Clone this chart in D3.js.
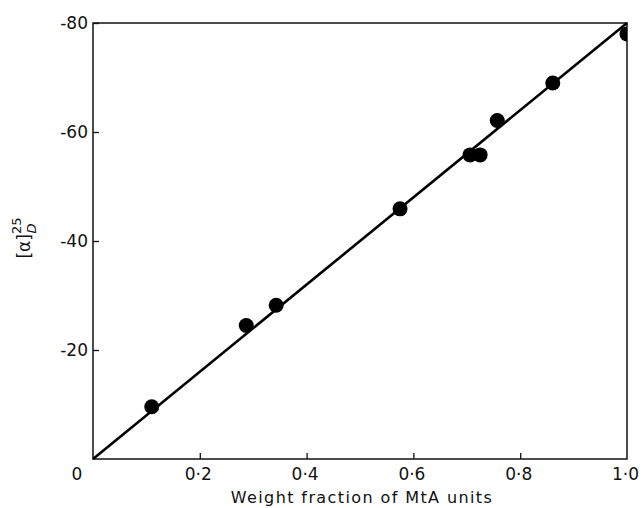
<!DOCTYPE html>
<html>
<head>
<meta charset="utf-8">
<script src="https://cdn.jsdelivr.net/npm/d3@7"></script>
<style>
  body { margin: 0; background: #fff; }
  svg text { font-family: "DejaVu Sans", sans-serif; fill: #111; }
</style>
</head>
<body>
<svg id="chart" width="643" height="508"></svg>
<script>
// points
var weightFraction = [0.11, 0.287, 0.343, 0.575, 0.706, 0.725, 0.757, 0.861, 1.0];
var rotation = [-9.6, -24.5, -28.2, -45.9, -55.8, -55.8, -62.1, -69.0, -78];
// straight line through origin
var lineX = [0, 1];
var lineY = [0, -80];
var xTicks = [0.2, 0.4, 0.6, 0.8, 1.0];
var yTicks = [-20, -40, -60, -80];

var mLeft = 93, mRight = 627, mTop = 23, mBottom = 459;

var svg = d3.select('#chart');

let x = d3.scaleLinear().domain([0, 1]).range([mLeft, mRight]);
let y = d3.scaleLinear().domain([0, -80]).range([mBottom, mTop]);

function fmt(d) {
  return d.toFixed(1).replace('.', '·');
}

// clip for the points (last one sits on the right frame)
svg.append('clipPath').attr('id', 'plotClip')
  .append('rect')
  .attr('x', mLeft).attr('y', mTop)
  .attr('width', mRight - mLeft).attr('height', mBottom - mTop);

// bottom axis
let xAxis = svg.append('g')
  .attr('transform', 'translate(0,' + mBottom + ')')
  .call(d3.axisBottom(x).tickValues(xTicks).tickSize(-6).tickPadding(9).tickFormat(fmt));
xAxis.selectAll('text').attr('font-size', 17).attr('dy', '0.71em').attr('dx', -2);
// last label runs off the edge in the original too
xAxis.selectAll('.tick:last-of-type line').remove();

// left axis
let yAxis = svg.append('g')
  .attr('transform', 'translate(' + mLeft + ',0)')
  .call(d3.axisLeft(y).tickValues(yTicks).tickSize(-6).tickPadding(5).tickFormat(d => d));
yAxis.selectAll('text').attr('font-size', 17);

svg.selectAll('.domain').remove();
svg.selectAll('.tick line').attr('stroke', '#111').attr('stroke-width', 1.3);

// frame
svg.append('rect')
  .attr('x', mLeft).attr('y', mTop)
  .attr('width', mRight - mLeft).attr('height', mBottom - mTop)
  .attr('fill', 'none')
  .attr('stroke', '#111')
  .attr('stroke-width', 1.5);

// origin label
svg.append('text')
  .attr('x', x(0) - 16).attr('y', mBottom + 9)
  .attr('dy', '0.71em')
  .attr('text-anchor', 'middle')
  .attr('font-size', 17)
  .text('0');

// fitted line
let lineGen = d3.line()
  .x((d, i) => x(lineX[i]))
  .y((d, i) => y(lineY[i]));
svg.append('path')
  .attr('d', lineGen(lineX))
  .attr('fill', 'none')
  .attr('stroke', '#000')
  .attr('stroke-width', 2.6);

// points
svg.append('g')
  .attr('clip-path', 'url(#plotClip)')
  .selectAll('circle')
  .data(weightFraction)
  .enter()
  .append('circle')
  .attr('cx', d => x(d))
  .attr('cy', (d, i) => y(rotation[i]))
  .attr('r', 7.5)
  .attr('fill', '#000');

// axis titles
svg.append('text')
  .attr('x', 362).attr('y', 503)
  .attr('text-anchor', 'middle')
  .attr('font-size', 16)
  .attr('letter-spacing', 1.4)
  .text('Weight fraction of MtA units');

let yLabel = svg.append('text')
  .attr('transform', 'translate(30,238) rotate(-90)')
  .attr('text-anchor', 'middle')
  .attr('font-size', 17);
yLabel.append('tspan').text('[α]');
yLabel.append('tspan').attr('font-size', 13).attr('dy', -9).text('25');
yLabel.append('tspan').attr('font-size', 13).attr('font-style', 'italic').attr('dx', -16).attr('dy', 15).text('D');
</script>
</body>
</html>
